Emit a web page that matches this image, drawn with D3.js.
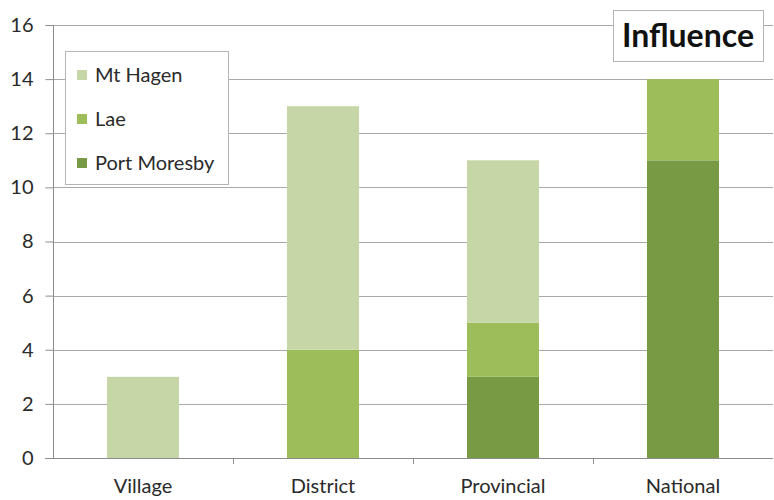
<!DOCTYPE html>
<html>
<head>
<meta charset="utf-8">
<script src="https://cdnjs.cloudflare.com/ajax/libs/d3/7.8.5/d3.min.js"></script>
<style>
  html, body { margin: 0; padding: 0; background: #fff; }
  svg { display: block; font-family: Lato, "Open Sans", sans-serif; }
</style>
</head>
<body>
<svg id="chart" width="774" height="500"></svg>
<script>
// Levels of influence, stacked by city
const categories = ["Village", "District", "Provincial", "National"];
const seriesNames = ["Port Moresby", "Lae", "Mt Hagen"]; // bottom to top
const portMoresby = [0, 0, 3, 11];
const lae = [0, 4, 2, 3];
const mtHagen = [3, 9, 6, 0];
const yTicks = [0, 2, 4, 6, 8, 10, 12, 14, 16];
const legendOrder = ["Mt Hagen", "Lae", "Port Moresby"];
const titleText = "Influence";

const colors = {
  "Port Moresby": "#789a44",
  "Lae": "#9dbd5b",
  "Mt Hagen": "#c6d6a7"
};

const rows = categories.map((c, i) => ({
  category: c,
  "Port Moresby": portMoresby[i],
  "Lae": lae[i],
  "Mt Hagen": mtHagen[i]
}));

const svg = d3.select("#chart");
const margin = { left: 53, right: 1, top: 25, bottom: 42 };
const W = 774, H = 500;
const textColor = "#2a2a2a";
const axisColor = "#8c8c8c";

const x = d3.scaleBand()
  .domain(categories)
  .range([margin.left, W - margin.right])
  .paddingInner(0.6)
  .paddingOuter(0.3);

const y = d3.scaleLinear()
  .domain([0, 16])
  .range([H - margin.bottom, margin.top]);

// Horizontal gridlines
svg.append("g")
  .selectAll("line")
  .data(yTicks.filter(t => t > 0))
  .join("line")
  .attr("x1", margin.left)
  .attr("x2", W - margin.right)
  .attr("y1", d => Math.round(y(d)) + 0.5)
  .attr("y2", d => Math.round(y(d)) + 0.5)
  .attr("stroke", "#a9a9a9")
  .attr("stroke-width", 1);

// Stacked bars
const stack = d3.stack().keys(seriesNames);
const layers = stack(rows);

svg.append("g")
  .selectAll("g")
  .data(layers)
  .join("g")
  .attr("fill", d => colors[d.key])
  .selectAll("rect")
  .data(d => d)
  .join("rect")
  .attr("x", d => x(d.data.category))
  .attr("width", x.bandwidth())
  .attr("y", d => y(d[1]))
  .attr("height", d => y(d[0]) - y(d[1]));

// Y axis
const yAxis = svg.append("g")
  .attr("transform", `translate(${margin.left + 0.5},0)`)
  .call(d3.axisLeft(y).tickValues(yTicks).tickSize(8).tickPadding(12));
yAxis.select(".domain").attr("stroke", axisColor).attr("d", `M0,${y(16)}V${y(0)}`);
yAxis.selectAll(".tick line").attr("stroke", axisColor);
yAxis.selectAll(".tick text")
  .attr("fill", textColor)
  .style("font-size", "20px")
  .style("font-family", "Lato, sans-serif");

// X axis with ticks on category boundaries
const x0 = margin.left, x1 = W - margin.right;
const step = (x1 - x0) / categories.length;
const xAxisG = svg.append("g");
xAxisG.append("line")
  .attr("x1", x0 - 8).attr("x2", x1)
  .attr("y1", Math.round(y(0)) + 0.5).attr("y2", Math.round(y(0)) + 0.5)
  .attr("stroke", axisColor);
xAxisG.selectAll("line.b")
  .data(d3.range(1, categories.length))
  .join("line")
  .attr("class", "b")
  .attr("x1", i => Math.round(x0 + i * step) + 0.5)
  .attr("x2", i => Math.round(x0 + i * step) + 0.5)
  .attr("y1", y(0))
  .attr("y2", y(0) + 6)
  .attr("stroke", axisColor);
xAxisG.selectAll("text")
  .data(categories)
  .join("text")
  .attr("x", d => x(d) + x.bandwidth() / 2)
  .attr("y", y(0) + 35)
  .attr("text-anchor", "middle")
  .attr("fill", textColor)
  .style("font-size", "20px")
  .text(d => d);

// Legend
const lg = svg.append("g");
lg.append("rect")
  .attr("x", 65.5).attr("y", 51.5)
  .attr("width", 163).attr("height", 133)
  .attr("fill", "#fff")
  .attr("stroke", "#b5b5b5");
const items = lg.selectAll("g.item")
  .data(legendOrder)
  .join("g")
  .attr("class", "item")
  .attr("transform", (d, i) => `translate(77,${75 + i * 44})`);
items.append("rect")
  .attr("x", 0).attr("y", -5)
  .attr("width", 10).attr("height", 10)
  .attr("fill", d => colors[d]);
items.append("text")
  .attr("x", 18).attr("y", 0)
  .attr("dy", "0.35em")
  .attr("fill", textColor)
  .style("font-size", "20px")
  .text(d => d);

// Title box
const tg = svg.append("g");
tg.append("rect")
  .attr("x", 613.5).attr("y", 10.5)
  .attr("width", 150).attr("height", 51)
  .attr("fill", "#fff")
  .attr("stroke", "#b5b5b5");
tg.append("text")
  .attr("x", 688).attr("y", 47)
  .attr("text-anchor", "middle")
  .attr("fill", "#111")
  .style("font-size", "32px")
  .style("font-weight", "bold")
  .text(titleText);
</script>
</body>
</html>
